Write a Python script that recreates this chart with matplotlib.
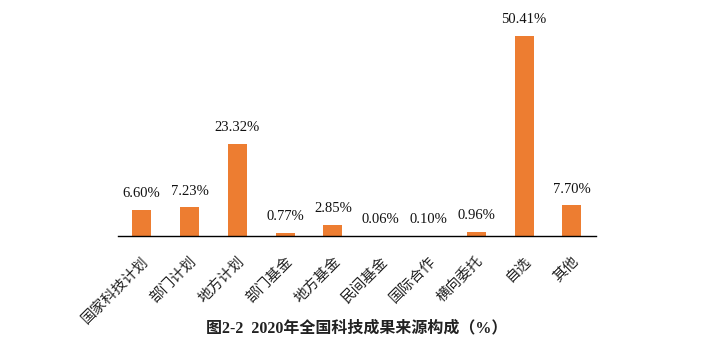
import matplotlib
matplotlib.use("Agg")
import matplotlib.pyplot as plt

categories = ["国家科技计划", "部门计划", "地方计划", "部门基金", "地方基金",
              "民间基金", "国际合作", "横向委托", "自选", "其他"]
values = [6.60, 7.23, 23.32, 0.77, 2.85, 0.06, 0.10, 0.96, 50.41, 7.70]
value_labels = ["6.60%", "7.23%", "23.32%", "0.77%", "2.85%",
                "0.06%", "0.10%", "0.96%", "50.41%", "7.70%"]
title = "图2-2  2020年全国科技成果来源构成（%）"

fam_num = ["Liberation Serif", "Noto Sans CJK SC"]
fam_cjk = ["Noto Sans CJK SC", "Liberation Serif"]

fig = plt.figure(figsize=(7.23, 3.45), dpi=100)
ax = fig.add_axes([0.163, 0.316, 0.661, 0.655])

x = range(len(categories))
bars = ax.bar(x, values, width=0.4, color="#ED7D31")
ax.set_xlim(-0.5, len(categories) - 0.5)
ax.set_ylim(0, 57)

for b, lab in zip(bars, value_labels):
    ax.annotate(lab, (b.get_x() + b.get_width() / 2, b.get_height()),
                xytext=(0, 7), textcoords="offset points",
                ha="center", va="bottom", fontsize=10.5, family=fam_num,
                color="#111111")

ax.set_xticks(list(x))
ax.set_xticklabels(categories, rotation=45, ha="right", rotation_mode="anchor",
                   fontsize=10.5, family=fam_cjk, color="#222222")
ax.tick_params(axis="x", length=0, pad=13)
ax.set_yticks([])
for s in ["top", "right", "left"]:
    ax.spines[s].set_visible(False)
ax.spines["bottom"].set_color("black")
ax.spines["bottom"].set_linewidth(1.0)

fig.text(0.494, 0.048, title, ha="center", va="center", fontsize=11.5,
         fontweight="bold", family=fam_num, color="#222222")

fig.savefig("out.png", dpi=100)
